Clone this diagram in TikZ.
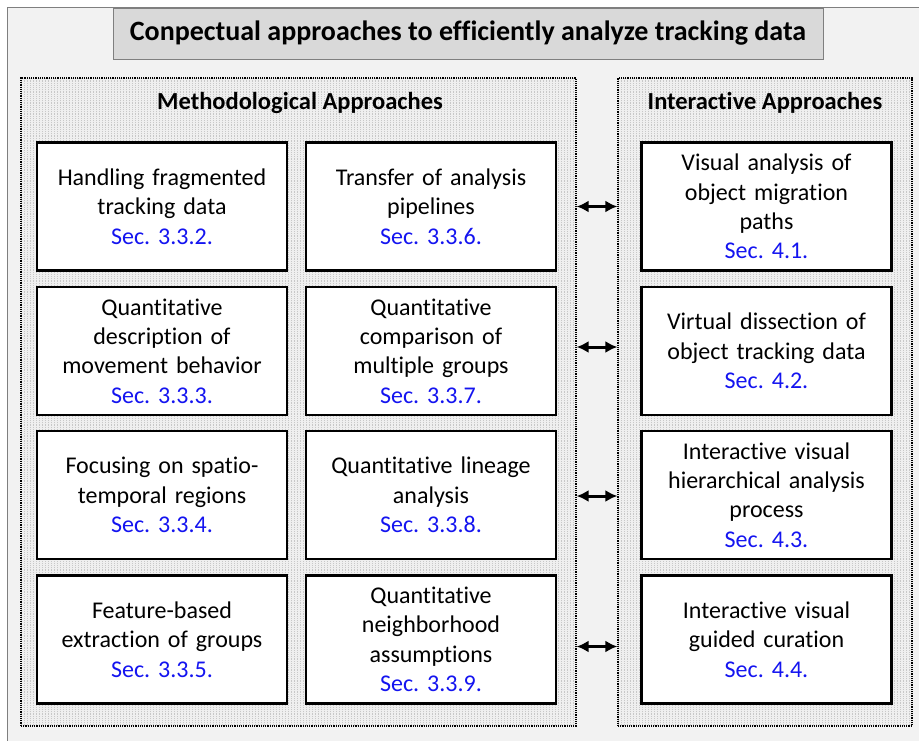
\documentclass[tikz,border=0pt]{standalone}
\usepackage{fontspec}
\setmainfont[Ligatures=NoCommon]{Carlito}
\usepackage{xcolor}
\usetikzlibrary{arrows.meta,positioning,patterns,calc}
\definecolor{cpframe}{HTML}{F2F2F2}
\definecolor{cpline}{HTML}{7F7F7F}
\definecolor{cptitle}{HTML}{D9D9D9}
\definecolor{cpstripe}{HTML}{C8C8C8}
\definecolor{cppanel}{HTML}{EFEFEF}
\definecolor{cpblue}{HTML}{1414F0}
\newcommand{\secno}[1]{\textcolor{cpblue}{#1}}
\frenchspacing
\tikzset{
  ttl/.style   = {rectangle, draw=cpline, fill=cptitle, line width=0.8pt,
                  minimum width=710pt, minimum height=51pt,
                  font=\fontsize{28}{32}\selectfont\bfseries},
  panel/.style = {rectangle, draw=black, densely dotted, line width=1.2pt,
                  preaction={fill=cppanel}, pattern=vertical lines,
                  pattern color=cpstripe, inner sep=0pt},
  hd/.style    = {font=\fontsize{24.5}{28}\selectfont\bfseries, inner sep=0pt},
  bx/.style    = {rectangle, draw=black, line width=2.6pt, fill=white,
                  minimum width=250pt, minimum height=128pt, text width=240pt,
                  align=center, inner sep=0pt,
                  font=\fontsize{24}{29.4}\selectfont},
  ar/.style    = {{Latex[length=12pt,width=12pt]}-{Latex[length=12pt,width=12pt]},
                  line width=3pt},
}
\begin{document}
\begin{tikzpicture}[x=1pt,y=-1pt]
  \clip (0,0) rectangle (919,741);
  \useasboundingbox (0,0) rectangle (919,741);
  \fill[white] (0,0) rectangle (919,741);
  \draw[cpline, fill=cpframe, line width=0.8pt] (7,7) rectangle (960,780);
  % title
  \node[ttl] (title) at (468,33.5) {Conpectual approaches to efficiently analyze tracking data};
  % panels
  \node[panel, minimum width=555pt, minimum height=648pt] (mp) at (298.5,402) {};
  \node[panel, minimum width=294pt, minimum height=648pt] (ip) at (765,402) {};
  \node[hd] (mphd) at (300,103) {Methodological Approaches};
  \node[hd] (iphd) at (765,103) {Interactive Approaches};
  % methodological boxes
  \node[bx] (m1) at (162,206.5) {Handling fragmented\\tracking data\\\secno{Sec. 3.3.2.}};
  \node[bx] (m2) at (162,351) {Quantitative\\description of\\movement behavior\\\secno{Sec. 3.3.3.}};
  \node[bx] (m3) at (162,495) {Focusing on spatio-\\temporal regions\\\secno{Sec. 3.3.4.}};
  \node[bx] (m4) at (162,639.5) {Feature-based\\extraction of groups\\\secno{Sec. 3.3.5.}};
  \node[bx] (m6) at (431,206.5) {Transfer of analysis\\pipelines\\\secno{Sec. 3.3.6.}};
  \node[bx] (m7) at (431,351) {Quantitative\\comparison of\\multiple groups\\\secno{Sec. 3.3.7.}};
  \node[bx] (m8) at (431,495) {Quantitative lineage\\analysis\\\secno{Sec. 3.3.8.}};
  \node[bx] (m9) at (431,639.5) {Quantitative\\neighborhood\\assumptions\\\secno{Sec. 3.3.9.}};
  % interactive boxes
  \node[bx] (i1) at (766.5,206.5) {Visual analysis of\\object migration\\paths\\\secno{Sec. 4.1.}};
  \node[bx] (i2) at (766.5,351) {Virtual dissection of\\object tracking data\\\secno{Sec. 4.2.}};
  \node[bx] (i3) at (766.5,495) {Interactive visual\\hierarchical analysis\\process\\\secno{Sec. 4.3.}};
  \node[bx] (i4) at (766.5,639.5) {Interactive visual\\guided curation\\\secno{Sec. 4.4.}};
  % links between the panels
  \foreach \r/\dy in {i1/0,i2/-4,i3/1,i4/7}
    \draw[ar] ($(mp.east |- \r)+(0,\dy)$) -- ($(ip.west |- \r)+(0,\dy)$);
\end{tikzpicture}
\end{document}
